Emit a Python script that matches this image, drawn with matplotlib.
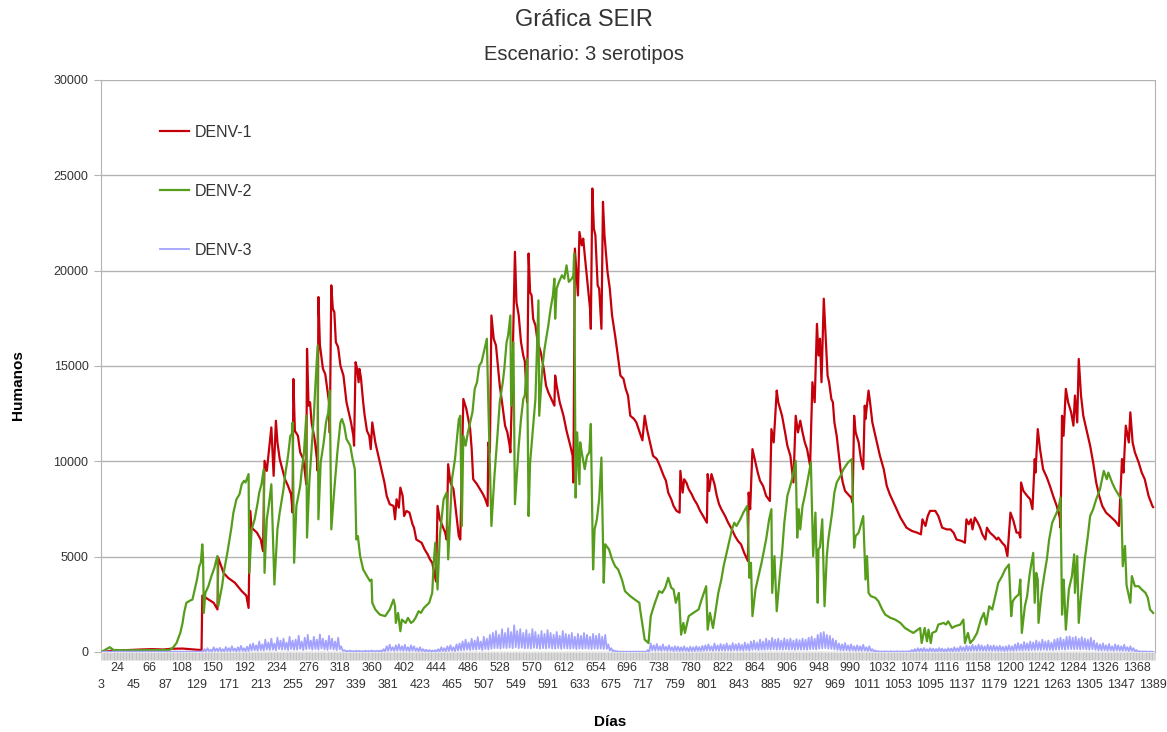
import matplotlib
matplotlib.use("Agg")
import matplotlib.pyplot as plt
from matplotlib.ticker import FixedLocator, MultipleLocator
import numpy as np

plt.rcParams['font.family'] = ['Liberation Sans', 'DejaVu Sans']

title = "Gráfica SEIR"
subtitle = "Escenario: 3 serotipos"
xlabel = "Días"
ylabel = "Humanos"
series_names = ["DENV-1", "DENV-2", "DENV-3"]
series_colors = ["#c5000b", "#579d1c", "#a3a3ff"]
first_day, last_day = 3, 1389
label_step = 21
y_ticks = [0, 5000, 10000, 15000, 20000, 25000, 30000]

# DENV-1 (day, humans)
denv1 = [(3,0),(15,60),(55,130),(70,150),(85,130),(95,170),(110,180),(120,150),(135,100),
(136,2960),(151,2580),(156,2230),(157,4940),(164,4150),(170,3890),(179,3630),(188,3190),(194,2960),(197,2310),
(199,7400),(201,6520),(208,6260),(213,5900),(216,5290),(218,10030),(221,9500),(227,11780),(230,9240),(233,12130),
(235,10990),(238,10120),(245,9060),(249,8710),(253,8270),(255,7310),(256,14320),(258,11600),(262,11340),(265,10470),
(269,10120),(271,9500),(273,8800),(274,15900),(276,12920),(278,13100),(280,12040),(284,11170),(287,10120),(288,9500),
(289,18620),(291,16090),(295,14850),(298,14580),(300,13970),(303,13100),(304,11500),(306,19230),(308,18000),(310,17830),
(312,16250),(315,15990),(318,15020),(322,14500),(323,14150),(326,13100),(328,12750),(332,12040),(335,11340),(336,10820),
(338,15200),(340,14850),(342,14150),(343,14850),(345,14410),(348,13100),(350,12390),(353,11600),(356,11340),(358,10640),
(360,12040),(362,11520),(364,10990),(369,10120),(372,9590),(376,8890),(379,8190),(383,7750),(388,7660),(390,6960),
(392,8010),(395,7570),(397,8620),(400,8190),(402,7130),(405,7400),(409,7310),(413,6700),(415,6520),(418,5900),
(425,5730),(429,5380),(433,5120),(436,4860),(439,4680),(444,3700),(446,7660),(449,6960),(456,6260),(458,5900),
(460,9850),(463,8890),(467,8540),(471,7130),(474,6080),(476,5900),(480,13270),(484,12750),(489,11690),(491,10640),
(493,9060),(498,8800),(502,8540),(506,8270),(509,8010),(512,7660),(513,10990),(515,10470),(517,17650),(520,16430),
(523,16080),(526,14850),(528,13970),(531,13100),(535,11870),(538,11520),(541,10820),(542,10470),(544,13450),(548,20990),
(550,18350),(553,17650),(556,16250),(559,15550),(561,15250),(564,13100),(566,20900),(568,18860),(570,18700),(572,17480),
(575,17130),(578,16250),(582,15730),(586,14850),(589,13970),(592,13620),(596,13270),(600,12920),(601,14500),(603,13970),
(607,13100),(612,12390),(616,11600),(621,10820),(624,10290),(625,8890),(627,21160),(631,18700),(633,22030),(636,21330),
(638,21680),(640,20810),(644,19230),(647,18000),(648,16950),(650,24310),(652,22210),(654,21860),(657,19230),(659,19060),
(662,16950),(664,23610),(666,21860),(670,19930),(673,19060),(676,17650),(680,16600),(683,15720),(687,14500),(691,14330),
(694,13800),(697,13450),(700,12390),(705,12220),(708,12040),(711,11690),(716,11100),(719,12390),(722,11690),(724,11340),
(727,10820),(730,10290),(735,10120),(739,9760),(744,9240),(747,8980),(750,8360),(754,8010),(757,7660),(761,7400),
(765,7310),(766,9500),(769,8360),(771,9060),(774,8880),(777,8540),(781,8270),(784,8010),(788,7750),(792,7400),
(796,7130),(801,6780),(802,9330),(804,8450),(807,9330),(811,8800),(814,8190),(817,7750),(820,7490),(825,7130),
(829,6780),(834,6430),(838,6080),(842,5820),(846,5640),(850,5210),(855,4770),(856,8360),(858,7490),(861,10640),
(864,10120),(868,9410),(871,8980),(875,8710),(879,8190),(884,7920),(886,11690),(889,10990),(893,13710),(895,13100),
(900,12390),(904,11520),(907,10820),(911,10290),(915,8890),(918,12390),(921,11520),(924,12130),(927,11520),(930,10990),
(933,10640),(937,9760),(940,14150),(943,13100),(946,17210),(948,15550),(950,16430),(952,14150),(955,18530),(958,16080),
(960,14500),(962,14150),(965,13270),(967,13100),(969,12040),(972,11340),(974,10640),(977,9590),(980,8890),(983,8450),
(987,8270),(991,8100),(993,7840),(995,12390),(997,11520),(1001,10990),(1004,10120),(1007,9590),(1009,12920),(1010,12220),
(1014,13710),(1016,13100),(1019,12040),(1023,11340),(1026,10820),(1029,10290),(1034,9590),(1038,8710),(1042,8270),(1047,7840),
(1051,7490),(1056,7050),(1060,6780),(1064,6520),(1071,6350),(1078,6260),(1083,6170),(1085,6960),(1089,6610),(1092,7130),
(1095,7400),(1102,7400),(1106,7130),(1111,6520),(1117,6430),(1122,6430),(1126,6260),(1130,5900),(1137,5820),(1141,5730),
(1143,6960),(1146,6700),(1149,6960),(1151,6430),(1154,7050),(1158,6780),(1161,6520),(1164,6170),(1168,5900),(1170,6520),
(1174,6260),(1179,6080),(1183,5900),(1185,6000),(1190,5730),(1194,5560),(1197,5030),(1201,7310),(1205,6870),(1209,6260),
(1212,6260),(1214,6000),(1215,8890),(1218,8450),(1223,8190),(1227,8010),(1230,7490),(1233,10120),(1234,9410),(1237,11690),
(1240,10640),(1244,9590),(1249,9150),(1253,8710),(1258,8100),(1262,7660),(1266,7050),(1267,6520),(1269,12390),(1271,11340),
(1274,13800),(1277,13100),(1281,12570),(1284,11870),(1286,13450),(1289,12040),(1291,15370),(1294,13450),(1297,12390),(1302,11520),
(1306,10820),(1310,9940),(1314,8890),(1318,8190),(1322,7660),(1327,7310),(1332,7130),(1339,6870),(1344,6610),(1348,10120),
(1350,9410),(1353,11870),(1357,10990),(1359,12570),(1362,10990),(1365,10470),(1370,9940),(1374,9410),(1378,9060),(1383,8190),
(1388,7660),(1389,7600)]

# DENV-2 (day, humans)
denv2 = [(3,0),(12,210),(14,250),(19,105),(38,90),(74,100),(93,105),(98,260),(102,470),(107,1000),(110,1525),(112,2050),
(115,2580),(120,2700),(123,2750),(126,3280),(129,3800),(132,4500),(134,4680),(136,5645),(137,4900),(138,2050),(140,3100),
(144,3450),(148,3980),(152,4420),(154,4770),(156,5030),(157,2400),(162,3450),(165,4330),(169,5200),(174,6430),(177,7310),
(181,8010),(185,8270),(188,8800),(191,8980),(193,8890),(197,9330),(198,4150),(201,6430),(205,6960),(209,7840),(211,8360),
(214,8800),(217,9590),(218,4150),(221,6960),(224,7800),(227,8800),(231,3540),(235,6430),(238,7310),(243,8540),(245,9240),
(249,10290),(252,11340),(254,11430),(255,12040),(257,4680),(260,7660),(265,8710),(267,9500),(270,10470),(273,12390),
(274,6000),(277,8890),(280,10640),(283,12390),(285,13970),(288,16080),(289,6960),(292,9940),(296,10990),(299,12040),
(302,12570),(304,13710),(306,6430),(310,8540),(314,10470),(318,12040),(320,12220),(323,11870),(326,11170),(331,10820),
(334,10120),(337,9590),(339,5900),(341,6080),(344,5030),(348,4330),(353,3980),(357,3720),(359,3800),(360,2580),
(364,2230),(370,1960),(377,1880),(383,2230),(388,2750),(390,2400),(391,1525),(394,2050),(397,1090),(399,1700),
(404,1525),(407,1790),(411,1525),(414,1610),(417,1790),(421,2140),(424,2050),(428,2310),(435,2580),(439,3100),
(441,4680),(443,5730),(446,3280),(449,6080),(454,8010),(458,8360),(460,4860),(465,9060),(469,10120),(474,12200),
(476,12390),(478,6610),(480,11340),(483,10820),(486,11520),(489,12040),(492,12570),(495,13800),(498,14150),(501,15020),
(504,15200),(508,15900),(511,16430),(513,12920),(517,6610),(521,9240),(524,10820),(528,13100),(532,14150),(534,14850),
(537,16250),(539,16600),(542,17650),(543,12920),(546,16250),(548,7750),(553,10820),(556,12220),(559,13270),(561,13450),
(564,15370),(566,7130),(568,9940),(572,11870),(575,13270),(579,18440),(580,12390),(584,14850),(587,15900),(592,17130),
(595,18000),(598,18700),(600,19580),(601,17480),(603,19060),(606,19410),(610,19760),(613,19580),(616,20280),(619,19410),
(623,19580),(625,19760),(626,20900),(628,8100),(630,11520),(633,8800),(634,11000),(636,10470),(640,9590),(643,10290),
(646,10470),(648,11960),(651,4330),(653,6430),(656,6960),(659,8010),(662,10200),(665,3630),(667,5650),(672,5380),
(676,4860),(680,4500),(684,4330),(689,3800),(693,3190),(700,2930),(706,2750),(712,2580),(713,2230),(719,650),
(724,470),(727,1880),(731,2400),(734,2750),(738,3190),(742,3100),(746,3370),(750,3890),(754,3370),(757,3280),
(760,2580),(764,3100),(767,910),(770,1525),(772,1000),(777,1880),(783,2050),(790,2230),(794,2750),(800,3450),
(802,1170),(805,2050),(809,1260),(812,2050),(816,3100),(820,3800),(823,4500),(827,5200),(831,5900),(834,6430),
(837,6780),(840,6610),(845,6960),(849,7310),(854,7660),(857,3890),(859,4680),(861,1880),(865,3280),(869,3980),
(873,4680),(879,5900),(883,6960),(886,7490),(887,3100),(890,5030),(893,2140),(897,3980),(900,5200),(903,6780),
(907,8190),(912,8890),(915,9410),(918,10030),(920,6000),(922,7490),(924,6430),(927,7660),(930,8190),(934,9060),
(938,9940),(941,5030),(944,7310),(947,2580),(948,5380),(950,5500),(953,6960),(956,2400),(959,5030),(961,5900),
(966,7310),(969,8360),(972,8890),(977,9240),(981,9590),(987,9940),(992,10120),(995,5470),(997,6080),(1001,6260),
(1004,6700),(1007,7130),(1010,3800),(1012,5030),(1014,3100),(1017,2930),(1023,2840),(1027,2660),(1032,2230),(1036,1960),
(1043,1790),(1049,1700),(1056,1525),(1062,1260),(1069,1090),(1073,1000),(1082,1260),(1084,470),(1088,1260),(1091,560),
(1093,1170),(1096,470),(1098,1000),(1103,1090),(1106,1440),(1113,1525),(1116,1440),(1119,1610),(1124,1260),(1128,1350),
(1135,1440),(1139,1700),(1141,470),(1145,1000),(1148,470),(1152,650),(1157,1000),(1162,1700),(1166,2050),(1169,1440),
(1173,2400),(1177,2230),(1181,2930),(1185,3630),(1190,3980),(1194,4330),(1199,4590),(1202,1880),(1204,2660),(1207,2840),
(1212,3020),(1214,3800),(1216,1000),(1220,2400),(1223,2930),(1226,3980),(1228,4500),(1231,5200),(1233,2580),(1235,4150),
(1237,3800),(1238,1525),(1242,3100),(1246,4150),(1249,4860),(1252,5900),(1256,6780),(1260,7130),(1264,7490),(1267,8100),
(1269,1960),(1271,3800),(1272,3100),(1274,1170),(1278,3280),(1282,3980),(1285,5120),(1286,3100),(1289,5030),(1291,1525),
(1294,2930),(1299,4860),(1303,6080),(1306,7130),(1310,7490),(1314,8010),(1319,8540),(1324,9500),(1328,9060),(1330,9410),
(1335,8880),(1339,8540),(1343,8270),(1347,8010),(1349,4500),(1352,5560),(1354,3500),(1359,2580),(1361,3980),(1365,3450),
(1370,3450),(1374,3280),(1379,3100),(1382,2840),(1385,2230),(1389,2050)]

# DENV-3: one reading every 2 days starting at day 3 (rows of 40 days)
denv3_step = 2
denv3_vals = [
0,0,20,5,30,10,20,5,30,10,20,5,30,10,20,5,30,10,20,5,
30,10,20,5,30,10,20,5,30,10,20,5,30,10,20,5,30,10,20,5,
30,10,20,5,30,10,20,5,30,10,20,5,30,10,20,5,30,10,20,5,
30,10,20,5,30,10,40,10,150,30,200,40,120,30,250,50,180,40,220,40,
150,30,260,50,200,40,300,60,180,40,250,50,320,60,200,40,280,50,400,80,
450,90,350,70,550,100,400,80,650,120,500,100,700,120,450,90,750,150,600,120,
700,130,500,100,800,150,600,120,650,120,850,160,550,100,750,140,900,170,600,120,
800,150,650,120,920,180,700,130,600,110,850,160,700,130,550,100,750,140,300,60,
100,30,60,20,80,20,50,15,70,20,60,20,50,15,70,20,60,15,80,20,
60,20,70,20,80,20,150,40,300,60,380,80,250,60,350,70,400,80,300,60,
380,70,250,50,350,70,300,60,200,40,250,50,150,30,120,30,100,20,80,20,
100,20,150,30,250,50,200,40,300,60,350,70,250,50,400,80,450,90,550,100,
650,120,500,100,700,130,600,120,780,150,550,100,800,150,700,130,900,170,1000,200,
1100,200,900,170,1200,220,1000,200,1250,230,1050,200,1400,250,1100,200,1200,220,1000,180,
1150,200,950,180,1200,220,1050,200,900,170,1100,200,950,180,1150,210,1000,180,900,170,
1050,200,850,160,1100,200,950,180,900,170,1000,190,800,150,950,180,850,160,1000,180,
900,170,800,150,950,170,850,160,950,170,800,150,900,160,400,80,200,40,80,20,
40,10,20,10,20,10,20,10,20,10,20,10,20,10,20,10,20,10,20,10,
100,20,450,90,350,70,420,80,300,60,400,80,280,60,350,70,250,50,300,60,
280,50,250,50,300,60,220,40,280,50,250,50,300,60,260,50,320,60,350,70,
400,80,300,60,450,80,350,70,420,80,380,70,450,90,350,70,470,90,400,80,
450,90,380,70,500,100,420,80,550,110,600,120,500,100,650,120,550,110,700,130,
600,120,740,140,650,120,700,130,600,120,720,140,650,120,700,130,600,110,680,130,
620,120,700,130,650,120,750,140,800,150,700,130,900,170,1000,190,1050,200,900,170,
850,160,700,130,600,110,450,90,400,80,470,90,350,70,400,80,300,60,350,70,
300,60,380,70,250,50,300,60,150,30,80,20,40,10,30,10,40,10,30,10,
40,10,30,10,40,10,30,10,40,10,30,10,40,10,100,20,150,30,200,40,
180,30,210,40,150,30,200,40,180,30,160,30,210,40,180,30,150,30,200,40,
180,30,250,50,200,40,300,60,250,50,350,60,300,60,380,70,320,60,390,70,
350,70,300,60,380,70,320,60,350,70,300,60,330,60,280,50,300,60,350,70,
300,60,400,80,470,90,400,80,520,100,450,90,550,100,500,100,600,110,520,100,
650,120,550,100,600,110,500,100,650,120,700,130,750,140,650,120,800,150,820,150,
750,140,800,150,700,130,780,150,700,130,650,120,750,140,600,110,470,90,400,80,
450,90,350,70,420,80,300,60,400,80,350,70,300,60,380,70,250,50,300,60,
200,40,100,20,40,10,30,10,30,10,20,10,20,10]

W, H = 1167, 732
fig = plt.figure(figsize=(W / 100, H / 100), dpi=100)
ax = fig.add_axes([101 / W, 1 - 652 / H, (1155 - 101) / W, (652 - 80) / H])

d1x, d1y = zip(*denv1)
d2x, d2y = zip(*denv2)
d3x = np.arange(len(denv3_vals)) * denv3_step + first_day

ax.plot(d1x, d1y, color=series_colors[0], lw=1.6, label=series_names[0], zorder=3)
ax.plot(d2x, d2y, color=series_colors[1], lw=1.6, label=series_names[1], zorder=4)
ax.plot(d3x, denv3_vals, color=series_colors[2], lw=1.3, label=series_names[2], zorder=5)

ax.set_xlim(2.5, 1391.5)
ax.set_ylim(0, 30000)

grid_c = '#b3b3b3'
ax.set_yticks(y_ticks)
ax.set_yticklabels([str(v) for v in y_ticks])
ax.yaxis.grid(True, color=grid_c, lw=1)
ax.set_axisbelow(True)
for s in ['top', 'bottom']:
    ax.spines[s].set_visible(False)
for s in ['left', 'right']:
    ax.spines[s].set_color(grid_c)
ax.tick_params(axis='y', direction='out', length=5, color=grid_c, labelsize=9,
               labelcolor='#333333', pad=4)

label_days = list(range(first_day, last_day + 1, label_step))
top_days = label_days[1::2]
bottom_days = label_days[0::2]

ax.xaxis.set_major_locator(FixedLocator(top_days))
ax.set_xticklabels([str(d) for d in top_days])
ax.xaxis.set_minor_locator(MultipleLocator(1))
ax.tick_params(axis='x', which='both', direction='out', length=6, width=0.4, color='#b8b8b8')
ax.tick_params(axis='x', which='major', labelsize=9, labelcolor='#333333', pad=1.5)

sec = ax.secondary_xaxis('bottom')
sec.set_xticks(bottom_days)
sec.set_xticklabels([str(d) for d in bottom_days])
sec.tick_params(axis='x', length=0, labelsize=9, labelcolor='#333333', pad=19.5)
sec.spines['bottom'].set_visible(False)

fig.text(0.5, 1 - 20 / H, title, ha='center', va='center', fontsize=17, color='#333333')
fig.text(0.5, 1 - 55 / H, subtitle, ha='center', va='center', fontsize=14.5, color='#333333')
fig.text(18 / W, 1 - 385 / H, ylabel, ha='center', va='center', rotation=90, fontsize=11, fontweight='bold')
fig.text(610 / W, 1 - 722 / H, xlabel, ha='center', va='center', fontsize=11, fontweight='bold')

ax.legend(loc='upper left', bbox_to_anchor=(160 / W, 1 - 125 / H), bbox_transform=fig.transFigure,
          frameon=False, fontsize=11.5, labelspacing=2.75, handlelength=1.8, handletextpad=0.4,
          borderpad=0, borderaxespad=0, labelcolor='#333333')

fig.savefig('out.png', dpi=100)
